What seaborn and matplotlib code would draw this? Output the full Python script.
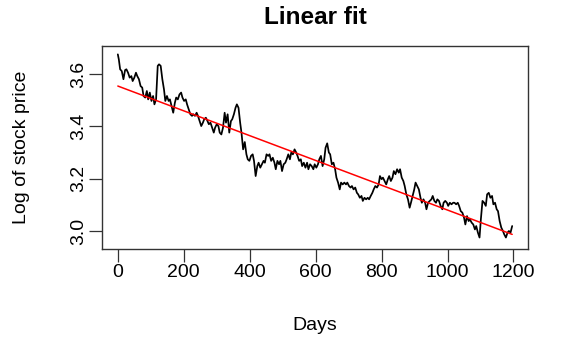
import matplotlib
matplotlib.use("Agg")
import matplotlib.pyplot as plt
import seaborn as sns
import pandas as pd

# ---- data ----
days = [0, 3, 7, 12, 17, 22, 26, 31, 36, 41, 45, 50, 55, 59, 64, 69, 74, 78, 83, 88,
        92, 97, 102, 107, 111, 116, 121, 125, 130, 135, 140, 144, 149, 154, 158, 163, 168, 173, 177, 182,
        187, 192, 196, 201, 206, 210, 215, 220, 225, 229, 234, 239, 243, 248, 253, 258, 262, 267, 272, 276,
        281, 286, 291, 295, 300, 305, 309, 314, 319, 324, 328, 333, 338, 343, 347, 352, 357, 361, 366, 371,
        375, 380, 385, 390, 394, 399, 404, 409, 413, 418, 423, 427, 432, 437, 442, 446, 451, 456, 460, 465,
        470, 475, 479, 484, 489, 493, 498, 503, 508, 512, 517, 522, 526, 531, 536, 541, 545, 550, 555, 559,
        564, 569, 574, 578, 583, 588, 593, 597, 602, 607, 611, 616, 621, 626, 630, 635, 640, 644, 649, 654,
        659, 663, 668, 673, 677, 682, 687, 692, 696, 701, 706, 710, 715, 720, 725, 729, 734, 739, 743, 748,
        753, 758, 762, 767, 772, 776, 781, 786, 791, 795, 800, 804, 809, 814, 819, 823, 828, 833, 837, 842,
        847, 852, 856, 861, 866, 870, 875, 880, 885, 889, 894, 899, 903, 908, 913, 918, 922, 927, 932, 936,
        941, 946, 951, 955, 960, 965, 969, 974, 979, 984, 988, 993, 998, 1002, 1007, 1012, 1017, 1021, 1026, 1031,
        1035, 1040, 1045, 1050, 1054, 1059, 1064, 1068, 1073, 1078, 1083, 1087, 1092, 1097, 1101, 1106, 1111, 1116, 1120, 1125,
        1130, 1135, 1139, 1144, 1149, 1153, 1158, 1163, 1168, 1172, 1177, 1182, 1186, 1191, 1196]

log_price = [3.675, 3.656, 3.618, 3.611, 3.580, 3.615, 3.618, 3.605, 3.586, 3.592, 3.573, 3.586, 3.605, 3.592, 3.580, 3.554, 3.548, 3.516, 3.510, 3.535,
             3.503, 3.529, 3.497, 3.516, 3.484, 3.503, 3.631, 3.637, 3.631, 3.580, 3.541, 3.497, 3.516, 3.497, 3.503, 3.478, 3.452, 3.490, 3.510, 3.503,
             3.522, 3.529, 3.510, 3.497, 3.503, 3.484, 3.465, 3.446, 3.440, 3.446, 3.440, 3.452, 3.440, 3.420, 3.401, 3.414, 3.427, 3.433, 3.420, 3.408,
             3.414, 3.395, 3.376, 3.395, 3.408, 3.401, 3.376, 3.369, 3.395, 3.452, 3.414, 3.446, 3.376, 3.420, 3.427, 3.446, 3.471, 3.484, 3.471, 3.414,
             3.376, 3.312, 3.340, 3.293, 3.274, 3.268, 3.287, 3.293, 3.268, 3.210, 3.248, 3.261, 3.242, 3.255, 3.268, 3.261, 3.293, 3.287, 3.293, 3.268,
             3.280, 3.261, 3.236, 3.268, 3.255, 3.268, 3.229, 3.255, 3.261, 3.274, 3.293, 3.274, 3.300, 3.293, 3.312, 3.300, 3.287, 3.268, 3.274, 3.248,
             3.261, 3.242, 3.261, 3.236, 3.255, 3.248, 3.236, 3.255, 3.242, 3.255, 3.274, 3.287, 3.248, 3.274, 3.318, 3.335, 3.300, 3.293, 3.255, 3.261,
             3.236, 3.204, 3.185, 3.159, 3.185, 3.178, 3.185, 3.178, 3.185, 3.172, 3.166, 3.172, 3.159, 3.166, 3.146, 3.140, 3.127, 3.134, 3.115, 3.127,
             3.121, 3.127, 3.121, 3.134, 3.146, 3.159, 3.172, 3.166, 3.178, 3.210, 3.198, 3.204, 3.191, 3.178, 3.198, 3.210, 3.191, 3.204, 3.229, 3.217,
             3.236, 3.223, 3.236, 3.204, 3.191, 3.172, 3.140, 3.121, 3.089, 3.108, 3.134, 3.159, 3.185, 3.172, 3.159, 3.127, 3.108, 3.121, 3.108, 3.083,
             3.108, 3.115, 3.121, 3.134, 3.115, 3.108, 3.121, 3.115, 3.096, 3.083, 3.108, 3.115, 3.108, 3.096, 3.108, 3.102, 3.108, 3.108, 3.102, 3.108,
             3.096, 3.076, 3.070, 3.051, 3.025, 3.057, 3.038, 3.044, 3.032, 3.025, 3.006, 3.019, 2.994, 2.975, 3.044, 3.115, 3.108, 3.096, 3.140, 3.146,
             3.127, 3.134, 3.102, 3.108, 3.083, 3.076, 3.038, 3.013, 3.000, 2.987, 2.975, 2.994, 3.000, 2.994, 3.019]

# linear fit
fit_intercept = 3.554
fit_slope = -0.000474

x_ticks = [0, 200, 400, 600, 800, 1000, 1200]
y_ticks = [3.0, 3.2, 3.4, 3.6]
y_tick_labels = ["3.0", "3.2", "3.4", "3.6"]

title = "Linear fit"
x_label = "Days"
y_label = "Log of stock price"

# ---- plotting ----
sns.set_theme(style="white")
plt.rcParams["font.family"] = ["Liberation Sans", "DejaVu Sans"]

df = pd.DataFrame({"day": days, "logp": log_price})
fit_x = [days[0], days[-1]]
fit_df = pd.DataFrame({"day": fit_x,
                       "fit": [fit_intercept + fit_slope * d for d in fit_x]})

W, H = 566, 343
L, R, T, B = 102, 528, 46, 249
fig = plt.figure(figsize=(W / 100, H / 100), dpi=100)
ax = fig.add_axes([L / W, 1 - B / H, (R - L) / W, (B - T) / H])

sns.lineplot(data=df, x="day", y="logp", ax=ax, color="black", linewidth=1.25,
             estimator=None, sort=False)
sns.lineplot(data=fit_df, x="day", y="fit", ax=ax, color="#ff0000", linewidth=1.1)

ax.set_xlim(-48.0, 1244.0)
ax.set_ylim(2.9312, 3.707)
ax.set_xticks(x_ticks)
ax.set_xticklabels([str(t) for t in x_ticks])
ax.set_yticks(y_ticks)
ax.set_yticklabels(y_tick_labels, rotation=90, va="center")

for s in ax.spines.values():
    s.set_visible(True)
    s.set_color("#333333")
    s.set_linewidth(1.0)

ax.tick_params(axis="both", direction="out", length=9.4, width=0.9, color="#333333",
               labelsize=14, labelcolor="black", pad=1.5)
ax.tick_params(axis="x", bottom=True)
ax.tick_params(axis="y", left=True)

ax.set_xlabel(x_label, fontsize=14, color="black")
ax.set_ylabel(y_label, fontsize=14, color="black")
ax.xaxis.label.set_va("center")
ax.yaxis.label.set_va("center")
ax.xaxis.set_label_coords(0.5, (B - 325) / (B - T))
ax.yaxis.set_label_coords((22 - L) / (R - L), 0.5)

fig.text((L + R) / 2 / W, 1 - 18 / H, title, ha="center", va="center",
         fontsize=17.5, fontweight="bold", color="black")

fig.savefig("out.png", dpi=100)
